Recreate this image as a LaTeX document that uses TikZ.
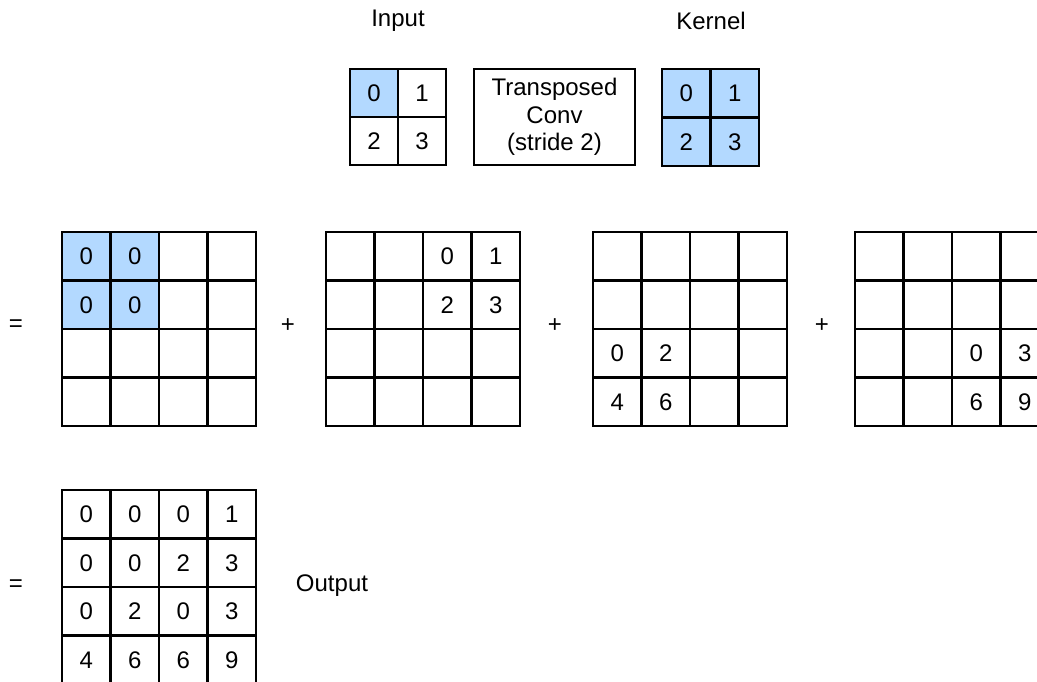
\documentclass[tikz,border=0pt]{standalone}
\usepackage{fontspec}
\setmainfont{Liberation Sans}
\usepackage{tikz}
\usetikzlibrary{positioning}
\definecolor{convblue}{RGB}{179,217,255}
\tikzstyle{cell} = [rectangle, draw=black, line width=2.4pt, minimum size=48.5pt, inner sep=0pt, fill=white]
\tikzstyle{box} = [rectangle, draw=black, line width=2.4pt, minimum width=161pt, minimum height=96pt, align=center, inner sep=0pt]
\tikzstyle{sign} = [inner sep=0pt]

\begin{document}
\begin{tikzpicture}[x=1pt, y=-1pt, every node/.style={font=\fontsize{24}{27.5}\selectfont}]
  \useasboundingbox (0,0) rectangle (1037,681);

  % Hàng trên: Input, Transposed Conv, Kernel
  \foreach \v/\f [count=\k from 0] in {0/convblue, 1/white, 2/white, 3/white} {
    \pgfmathtruncatemacro\r{\k/2}
    \pgfmathtruncatemacro\c{mod(\k,2)}
    \node[cell, minimum size=48pt, fill=\f] (in-\r-\c) at (374+48*\c, 93+48*\r) {\v};
  }
  \node[box] (conv) at (554.5,117) {Transposed\\Conv\\(stride 2)};
  \foreach \v [count=\k from 0] in {0,1,2,3} {
    \pgfmathtruncatemacro\r{\k/2}
    \pgfmathtruncatemacro\c{mod(\k,2)}
    \node[cell, fill=convblue] (ker-\r-\c) at (686.25+48.5*\c, 93.25+48.5*\r) {\v};
  }
  \node (inlbl) at (398,21) {Input};
  \node (kerlbl) at (711,21) {Kernel};

  % Hàng giữa: bốn ma trận trung gian
  \foreach \v/\f [count=\k from 0] in {0/convblue, 0/convblue, /white, /white,
                                      0/convblue, 0/convblue, /white, /white,
                                      /white, /white, /white, /white,
                                      /white, /white, /white, /white} {
    \pgfmathtruncatemacro\r{\k/4}
    \pgfmathtruncatemacro\c{mod(\k,4)}
    \node[cell, fill=\f] (p1-\r-\c) at (86.25+48.5*\c, 256.25+48.5*\r) {\v};
  }
  \foreach \v [count=\k from 0] in {,,0,1, ,,2,3, ,,,, ,,,} {
    \pgfmathtruncatemacro\r{\k/4}
    \pgfmathtruncatemacro\c{mod(\k,4)}
    \node[cell] (p2-\r-\c) at (350.25+48.5*\c, 256.25+48.5*\r) {\v};
  }
  \foreach \v [count=\k from 0] in {,,,, ,,,, 0,2,,, 4,6,,} {
    \pgfmathtruncatemacro\r{\k/4}
    \pgfmathtruncatemacro\c{mod(\k,4)}
    \node[cell] (p3-\r-\c) at (617.25+48.5*\c, 256.25+48.5*\r) {\v};
  }
  \foreach \v [count=\k from 0] in {,,,, ,,,, ,,0,3, ,,6,9} {
    \pgfmathtruncatemacro\r{\k/4}
    \pgfmathtruncatemacro\c{mod(\k,4)}
    \node[cell] (p4-\r-\c) at (879.25+48.5*\c, 256.25+48.5*\r) {\v};
  }
  \node[sign] (eq1) at (16,326) {=};
  \node[sign] (plus1) at (288,326) {+};
  \node[sign] (plus2) at (555,326) {+};
  \node[sign] (plus3) at (822,326) {+};

  % Hàng dưới: kết quả
  \foreach \v [count=\k from 0] in {0,0,0,1, 0,0,2,3, 0,2,0,3, 4,6,6,9} {
    \pgfmathtruncatemacro\r{\k/4}
    \pgfmathtruncatemacro\c{mod(\k,4)}
    \node[cell] (out-\r-\c) at (86.25+48.5*\c, 514.25+48.5*\r) {\v};
  }
  \node[sign] (eq2) at (16,586) {=};
  \node (outlbl) at (332,586) {Output};
\end{tikzpicture}
\end{document}
